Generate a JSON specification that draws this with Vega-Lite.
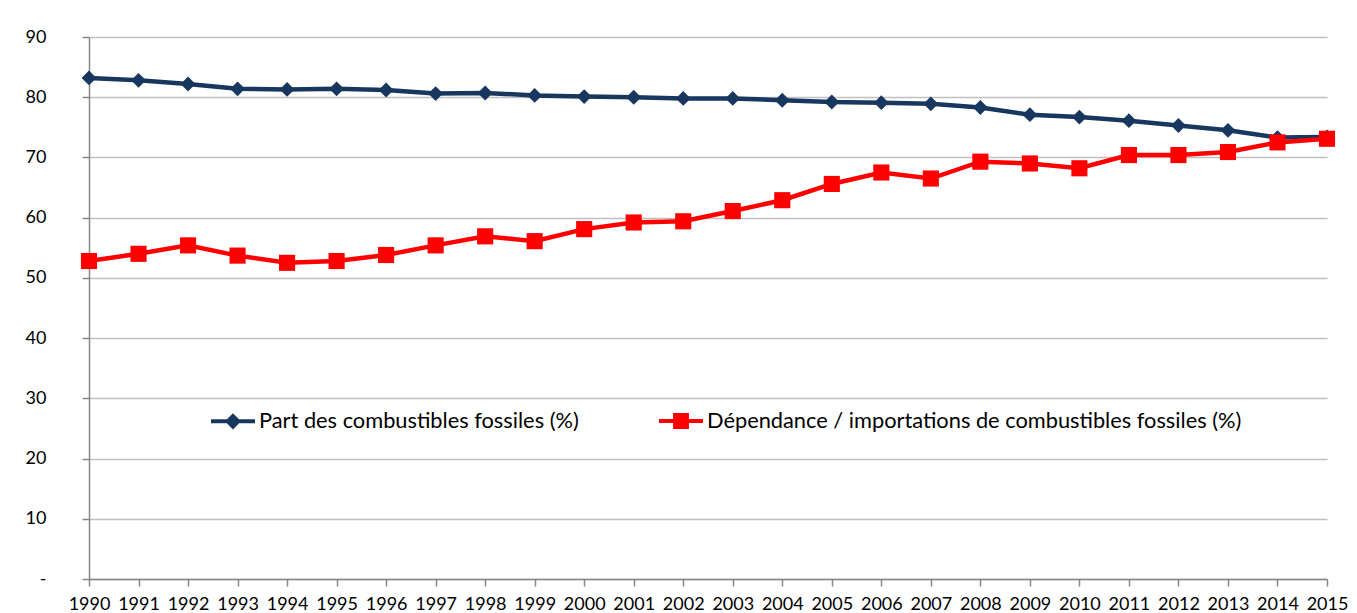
{
  "$schema": "https://vega.github.io/schema/vega-lite/v6.json",
  "autosize": {"type": "none"},
  "width": 1238,
  "height": 542,
  "padding": {"left": 89, "top": 37, "right": 30, "bottom": 34},
  "background": "white",
  "config": {
    "view": {"stroke": null},
    "font": "Lato",
    "axis": {
      "labelFont": "Lato",
      "labelFontSize": 18,
      "labelColor": "#000000",
      "domainColor": "#868686",
      "domainWidth": 1.5,
      "tickColor": "#868686",
      "tickWidth": 1.5,
      "tickSize": 7,
      "gridColor": "#C0C0C0",
      "gridWidth": 1.5,
      "title": null
    }
  },
  "data": {
    "values": [
      {"year": "1990", "series": "Part des combustibles fossiles (%)", "value": 83.2},
      {"year": "1991", "series": "Part des combustibles fossiles (%)", "value": 82.8},
      {"year": "1992", "series": "Part des combustibles fossiles (%)", "value": 82.2},
      {"year": "1993", "series": "Part des combustibles fossiles (%)", "value": 81.4},
      {"year": "1994", "series": "Part des combustibles fossiles (%)", "value": 81.3},
      {"year": "1995", "series": "Part des combustibles fossiles (%)", "value": 81.4},
      {"year": "1996", "series": "Part des combustibles fossiles (%)", "value": 81.2},
      {"year": "1997", "series": "Part des combustibles fossiles (%)", "value": 80.6},
      {"year": "1998", "series": "Part des combustibles fossiles (%)", "value": 80.7},
      {"year": "1999", "series": "Part des combustibles fossiles (%)", "value": 80.3},
      {"year": "2000", "series": "Part des combustibles fossiles (%)", "value": 80.1},
      {"year": "2001", "series": "Part des combustibles fossiles (%)", "value": 80.0},
      {"year": "2002", "series": "Part des combustibles fossiles (%)", "value": 79.8},
      {"year": "2003", "series": "Part des combustibles fossiles (%)", "value": 79.8},
      {"year": "2004", "series": "Part des combustibles fossiles (%)", "value": 79.5},
      {"year": "2005", "series": "Part des combustibles fossiles (%)", "value": 79.2},
      {"year": "2006", "series": "Part des combustibles fossiles (%)", "value": 79.1},
      {"year": "2007", "series": "Part des combustibles fossiles (%)", "value": 78.9},
      {"year": "2008", "series": "Part des combustibles fossiles (%)", "value": 78.3},
      {"year": "2009", "series": "Part des combustibles fossiles (%)", "value": 77.1},
      {"year": "2010", "series": "Part des combustibles fossiles (%)", "value": 76.7},
      {"year": "2011", "series": "Part des combustibles fossiles (%)", "value": 76.1},
      {"year": "2012", "series": "Part des combustibles fossiles (%)", "value": 75.3},
      {"year": "2013", "series": "Part des combustibles fossiles (%)", "value": 74.5},
      {"year": "2014", "series": "Part des combustibles fossiles (%)", "value": 73.3},
      {"year": "2015", "series": "Part des combustibles fossiles (%)", "value": 73.4},
      {"year": "1990", "series": "Dépendance / importations de combustibles fossiles (%)", "value": 52.8},
      {"year": "1991", "series": "Dépendance / importations de combustibles fossiles (%)", "value": 54.0},
      {"year": "1992", "series": "Dépendance / importations de combustibles fossiles (%)", "value": 55.4},
      {"year": "1993", "series": "Dépendance / importations de combustibles fossiles (%)", "value": 53.7},
      {"year": "1994", "series": "Dépendance / importations de combustibles fossiles (%)", "value": 52.5},
      {"year": "1995", "series": "Dépendance / importations de combustibles fossiles (%)", "value": 52.8},
      {"year": "1996", "series": "Dépendance / importations de combustibles fossiles (%)", "value": 53.8},
      {"year": "1997", "series": "Dépendance / importations de combustibles fossiles (%)", "value": 55.4},
      {"year": "1998", "series": "Dépendance / importations de combustibles fossiles (%)", "value": 56.9},
      {"year": "1999", "series": "Dépendance / importations de combustibles fossiles (%)", "value": 56.1},
      {"year": "2000", "series": "Dépendance / importations de combustibles fossiles (%)", "value": 58.1},
      {"year": "2001", "series": "Dépendance / importations de combustibles fossiles (%)", "value": 59.2},
      {"year": "2002", "series": "Dépendance / importations de combustibles fossiles (%)", "value": 59.4},
      {"year": "2003", "series": "Dépendance / importations de combustibles fossiles (%)", "value": 61.1},
      {"year": "2004", "series": "Dépendance / importations de combustibles fossiles (%)", "value": 62.9},
      {"year": "2005", "series": "Dépendance / importations de combustibles fossiles (%)", "value": 65.6},
      {"year": "2006", "series": "Dépendance / importations de combustibles fossiles (%)", "value": 67.5},
      {"year": "2007", "series": "Dépendance / importations de combustibles fossiles (%)", "value": 66.5},
      {"year": "2008", "series": "Dépendance / importations de combustibles fossiles (%)", "value": 69.3},
      {"year": "2009", "series": "Dépendance / importations de combustibles fossiles (%)", "value": 69.0},
      {"year": "2010", "series": "Dépendance / importations de combustibles fossiles (%)", "value": 68.2},
      {"year": "2011", "series": "Dépendance / importations de combustibles fossiles (%)", "value": 70.4},
      {"year": "2012", "series": "Dépendance / importations de combustibles fossiles (%)", "value": 70.4},
      {"year": "2013", "series": "Dépendance / importations de combustibles fossiles (%)", "value": 70.9},
      {"year": "2014", "series": "Dépendance / importations de combustibles fossiles (%)", "value": 72.5},
      {"year": "2015", "series": "Dépendance / importations de combustibles fossiles (%)", "value": 73.1}
    ]
  },
  "encoding": {
    "x": {
      "field": "year",
      "type": "ordinal",
      "scale": {"type": "point", "padding": 0},
      "axis": {"labelAngle": 0, "labelPadding": 9, "grid": false, "labelBaseline": "top"}
    },
    "y": {
      "field": "value",
      "type": "quantitative",
      "scale": {"domain": [0, 90], "nice": false, "zero": true},
      "axis": {
        "values": [0, 10, 20, 30, 40, 50, 60, 70, 80, 90],
        "grid": true,
        "labelPadding": 36,
        "labelExpr": "datum.value == 0 ? '-' : datum.label"
      }
    }
  },
  "layer": [
    {
      "mark": {"type": "line", "strokeWidth": 4.5},
      "encoding": {
        "color": {
          "field": "series",
          "type": "nominal",
          "scale": {
            "domain": ["Part des combustibles fossiles (%)", "Dépendance / importations de combustibles fossiles (%)"],
            "range": ["#17375E", "#FF0000"]
          },
          "legend": {
            "title": null,
            "orient": "none",
            "direction": "horizontal",
            "legendX": 120,
            "legendY": 360,
            "padding": 0,
            "labelFont": "Lato",
            "labelFontSize": 21.8,
            "labelColor": "#000000",
            "labelLimit": 0,
            "labelOffset": 2,
            "columnPadding": 72,
            "symbolSize": 1936,
            "symbolStrokeWidth": 4,
            "symbolOpacity": 1,
            "encode": {
              "symbols": {
                "update": {
                  "shape": {"signal": "datum.value === 'Part des combustibles fossiles (%)' ? 'M-1,0L1,0M0,-0.24L0.24,0L0,0.24L-0.24,0Z' : 'M-1,0L1,0M-0.27,-0.27L0.27,-0.27L0.27,0.27L-0.27,0.27Z'"},
                  "fill": {"signal": "scale('color', datum.value)"},
                  "stroke": {"signal": "scale('color', datum.value)"},
                  "strokeWidth": {"value": 4},
                  "size": {"value": 1936}
                }
              }
            }
          }
        }
      }
    },
    {
      "transform": [{"filter": "datum.series === 'Part des combustibles fossiles (%)'"}],
      "mark": {"type": "point", "filled": true, "opacity": 1, "shape": "diamond", "size": 220, "color": "#17375E"}
    },
    {
      "transform": [{"filter": "datum.series !== 'Part des combustibles fossiles (%)'"}],
      "mark": {"type": "point", "filled": true, "opacity": 1, "shape": "square", "size": 260, "color": "#FF0000"}
    }
  ]
}
